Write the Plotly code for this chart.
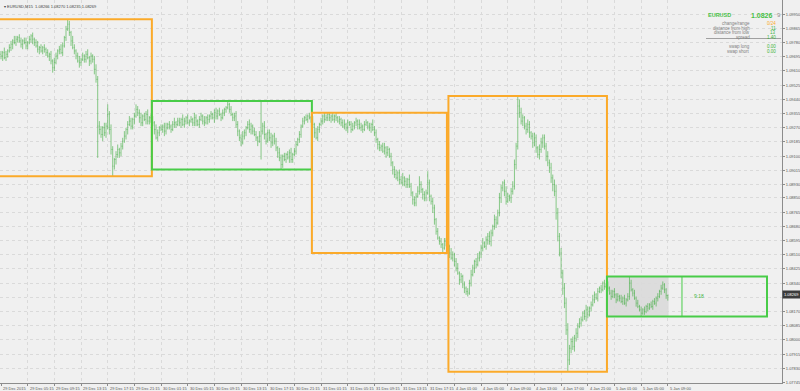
import plotly.graph_objects as go

# ---------------- data ----------------
symbol = "EURUSD"
timeframe = "M15"
base_price = 1.07
pip = 0.0001

first_open = 271
# closes in pips above base_price, one value per M15 bar
close_d1 = [270, 272, 269, 271, 273, 275, 277, 279, 278, 280, 281, 279, 277, 279, 278, 276, 278,
            280, 282, 280, 278, 276, 274, 275, 273, 275, 274, 272, 270, 271, 267, 263, 266,
            270, 273, 274, 272, 276, 281, 286, 289, 284, 279, 275, 273, 270, 267, 266, 268,
            270, 268, 271, 269, 267, 270, 268, 262, 256, 228, 226, 223, 227, 224, 228, 235,
            226, 214, 204, 208, 211, 214, 212, 216, 219, 222, 226, 229, 231, 228, 232, 234,
            238, 236, 233, 230, 234, 232, 235, 231, 233, 232]
close_d2 = [230, 226, 221, 224, 227, 226, 228, 225, 227, 229, 228, 226, 229, 230,
            229, 231, 230, 232, 229, 231, 233, 230, 231,
            232, 230, 233, 231, 229, 232, 234, 231, 230, 233, 232, 234,
            235, 233, 236, 234, 237, 235, 233, 236, 238, 239, 241, 238, 235, 233, 234,
            229, 225, 221, 218, 222, 224, 227, 229, 226, 228, 225, 223, 221, 219, 222, 225,
            228, 223, 219, 224, 221, 218, 222, 219, 215, 212, 209, 205, 210, 208,
            211, 209, 212, 208, 211, 213, 217, 220, 223, 228, 231, 233, 232, 234, 233, 232]
close_d3 = [229, 224, 221, 226, 229, 231, 234, 232, 233, 235, 233, 234, 232, 234, 233, 231, 232,
            230, 228, 229, 227, 230, 229, 226, 228, 230, 231, 229, 227, 228, 226, 229,
            230, 228, 227, 229, 226, 224, 220, 217, 215, 216, 213, 215, 212, 214, 210,
            206, 202, 199, 197, 200, 196, 194, 197, 195, 193, 196, 192, 188, 184, 182,
            186, 189, 193, 190, 187, 185, 188, 194, 186, 183, 179, 172, 165, 161, 159,
            157, 155, 159, 158]
close_d4 = [156, 152, 149, 151, 147, 143, 140, 136, 138, 133, 131, 129, 128, 134,
            139, 143, 147, 145, 149, 152, 155, 158, 156, 160, 162, 159,
            164, 168, 172, 170, 176, 185, 191, 194, 189, 183, 186, 185, 189, 192,
            205, 216, 240, 236, 231, 233, 228, 226, 229, 224, 222, 218, 221, 215, 211, 214,
            218, 221, 216, 210, 206, 203, 197, 193, 189, 176, 162, 152, 140, 131, 122,
            106, 88, 95, 99, 96, 101, 104, 108, 110, 112, 116, 114, 118, 115, 119,
            121, 124, 127, 125, 129, 131, 130, 134, 132, 133]
close_d5 = [131, 128, 126, 129, 127, 124, 126, 125, 123, 125, 122, 124, 126, 134, 130, 128,
            125, 122, 120, 118, 116, 118, 117, 120, 119, 121, 120, 123, 122, 125,
            126, 129, 131, 133, 130, 126.6, 126.9]

# upper / lower wick beyond the bar body, in pips
up_d1 = [2, 1, 3, 2, 1, 2, 2, 1, 3, 2, 1, 2, 2, 1, 2, 3, 1, 2, 1, 2, 1, 2, 3, 1, 2, 1, 2,
         1, 2, 1, 2, 1, 3, 2, 1, 2, 3, 2, 1, 2, 3, 2, 1, 3, 2, 1, 2, 3, 1, 2, 1, 2, 3, 1, 2, 1,
         2, 3, 2, 3, 2, 1, 3, 2, 6, 2, 3, 2, 1, 2, 3, 1, 2, 2, 3, 1, 2, 3, 2, 1, 2, 3, 2,
         2, 3, 1, 2, 2, 3, 1, 2]
dn_d1 = [2, 3, 1, 2, 2, 1, 2, 3, 1, 2, 2, 1, 2, 3, 1, 2, 2, 1, 2, 3, 2, 1, 2, 3, 1, 2, 2,
         2, 1, 3, 2, 3, 2, 1, 2, 2, 1, 2, 1, 2, 1, 2, 3, 1, 2, 2, 1, 3, 2, 1, 2, 2, 1, 3, 2, 2,
         3, 2, 19, 3, 2, 4, 2, 3, 2, 3, 3, 6, 2, 3, 2, 3, 2, 2, 1, 2, 3, 1, 2, 2, 3, 1, 2,
         3, 2, 2, 1, 3, 2, 2, 2]
up_d2 = [2, 1, 3, 2, 1, 2, 1, 2, 3, 1, 2, 1, 2, 3, 1, 2, 2, 1, 3, 2, 1, 2, 1,
         2, 1, 3, 2, 1, 2, 2, 1, 3, 1, 2, 1, 2, 1, 2, 3, 1, 2, 1, 2, 1, 1, 2, 1, 2, 1, 2,
         3, 2, 1, 2, 3, 2, 1, 2, 3, 2, 1, 2, 2, 1, 3, 18, 2, 3, 1, 2, 2, 3, 1, 2,
         2, 1, 3, 2, 1, 2, 1, 2, 2, 3, 1, 2, 2, 1, 2, 1, 2, 1, 2, 1, 2, 1]
dn_d2 = [2, 3, 1, 2, 2, 1, 2, 3, 2, 1, 2, 2, 1, 2, 2, 1, 2, 3, 1, 2, 2, 1, 2,
         1, 2, 2, 3, 1, 2, 1, 2, 2, 1, 3, 2, 2, 1, 3, 2, 2, 1, 2, 1, 2, 2, 1, 2, 1, 2, 2,
         2, 3, 2, 2, 1, 2, 2, 1, 2, 3, 2, 1, 2, 3, 1, 14, 2, 3, 2, 1, 2, 3, 2, 2,
         2, 3, 2, 3, 2, 1, 2, 1, 3, 2, 2, 1, 2, 1, 2, 2, 1, 2, 1, 2, 1, 2]
up_d3 = [2, 1, 3, 2, 1, 2, 1, 2, 2, 1, 1, 1, 2, 1, 2, 1, 2,
         1, 2, 3, 1, 2, 1, 2, 2, 1, 2, 1, 3, 2, 1, 2, 2, 1, 2, 1, 3, 2, 2, 1, 2,
         1, 2, 3, 1, 2, 1, 2, 1, 2, 3, 1, 2, 2, 3, 1, 2, 1, 3, 2, 1, 2,
         2, 3, 5, 2, 1, 2, 2, 7, 2, 1, 2, 2, 1, 2, 1, 2, 1, 2, 2]
dn_d3 = [2, 3, 1, 2, 2, 1, 2, 2, 1, 2, 2, 3, 1, 2, 2, 1, 2,
         2, 1, 2, 2, 3, 1, 2, 1, 2, 2, 3, 1, 2, 2, 1, 1, 2, 2, 3, 1, 2, 2, 3, 2,
         2, 1, 2, 3, 2, 1, 2, 3, 2, 1, 2, 3, 1, 2, 3, 2, 2, 1, 2, 3, 2,
         2, 1, 2, 2, 3, 2, 2, 1, 3, 2, 3, 3, 2, 1, 2, 2, 3, 1, 2]
up_d4 = [2, 1, 3, 2, 1, 2, 3, 1, 2, 1, 2, 1, 2, 2, 3, 2, 1, 2, 3, 1, 2, 3, 1, 2, 2, 3,
         2, 1, 3, 2, 2, 3, 2, 1, 2, 3, 2, 1, 2, 3, 3, 2, 6, 4,
         3, 2, 1, 2, 3, 2, 1, 2, 3, 2, 1, 3, 3, 2, 2, 2, 3, 2, 3, 2, 3, 4, 3, 2,
         3, 2, 3, 3, 4, 2, 2, 3, 2, 3, 2, 3, 2, 1, 2, 3, 2, 1, 2, 3, 2, 1, 2, 1, 2, 1, 2, 1]
dn_d4 = [2, 3, 1, 2, 3, 2, 1, 3, 2, 2, 3, 2, 2, 1, 2, 1, 3, 2, 1, 2, 3, 2, 1, 2, 3, 2,
         3, 2, 2, 3, 1, 2, 3, 2, 3, 2, 1, 2, 3, 2, 2, 3, 2, 3,
         2, 3, 2, 3, 2, 3, 2, 3, 2, 3, 2, 3, 2, 3, 2, 3, 2, 3, 3, 4, 3, 4, 3, 2,
         3, 4, 3, 3, 7, 3, 3, 2, 3, 2, 3, 1, 2, 1, 2, 3, 2, 1, 2, 1, 2, 1, 2, 1, 2, 1, 2, 1]
up_d5 = [2, 1, 2, 1, 2, 1, 2, 1, 2, 1, 2, 1, 2, 4, 2, 1, 2, 1, 2, 1, 2, 1,
         2, 1, 2, 1, 2, 1, 2, 1, 2, 1, 2, 2, 1, 1, 0.1]
dn_d5 = [2, 1, 2, 1, 2, 2, 1, 2, 1, 2, 1, 2, 1, 2, 1, 2, 1, 2.1, 1, 1, 2, 1,
         2, 1, 2, 1, 1, 2, 1, 2, 2, 1, 2, 1, 2, 2, 3.1]

# trading days (bar index of first and last M15 bar of each day)
day_first_bar = [-5, 91, 187, 268, 364]
day_last_bar = [90, 186, 267, 363, 459]

tick_bars = list(range(0, 401, 16))
tick_labels = ["29 Dec 2015", "29 Dec 05:15", "29 Dec 09:15", "29 Dec 13:15", "29 Dec 17:15",
               "29 Dec 21:15", "30 Dec 01:15", "30 Dec 05:15", "30 Dec 09:15", "30 Dec 13:15",
               "30 Dec 17:15", "30 Dec 21:15", "31 Dec 01:15", "31 Dec 05:15", "31 Dec 09:15",
               "31 Dec 13:15", "31 Dec 17:15", "4 Jan 01:00", "4 Jan 05:00", "4 Jan 09:00",
               "4 Jan 13:00", "4 Jan 17:00", "4 Jan 21:00", "5 Jan 01:00", "5 Jan 05:00",
               "5 Jan 09:00"]
price_labels = ["1.09950", "1.09865", "1.09780", "1.09695", "1.09610", "1.09525", "1.09440",
                "1.09355", "1.09270", "1.09185", "1.09100", "1.09015", "1.08930", "1.08850",
                "1.08765", "1.08680", "1.08595", "1.08510", "1.08425", "1.08340", "1.08255",
                "1.08170", "1.08085", "1.08000", "1.07915", "1.07830", "1.07745"]

panel_change = 0
panel_spread = "1.40"
panel_swap_long = "0.00"
panel_swap_short = "0.00"
timer_bar = 408.5
timer_text = "9:18"
range_limit_pips = 60

# ---------------- build ----------------
close = close_d1 + close_d2 + close_d3 + close_d4 + close_d5
up = up_d1 + up_d2 + up_d3 + up_d4 + up_d5
dn = dn_d1 + dn_d2 + dn_d3 + dn_d4 + dn_d5
n = len(close)
opn = [first_open] + close[:-1]
high = [max(o, c) + u for o, c, u in zip(opn, close, up)]
low = [min(o, c) - d for o, c, d in zip(opn, close, dn)]


def to_price(v):
    return base_price + v * pip


ORANGE = "#fbaa2a"
GREEN = "#48cc48"
BAR = "rgba(70,175,70,0.62)"
TXT = "#555555"
FONT = "Liberation Sans"
W_PLOT, H_PLOT = 782.0, 383.0


def pxx(x):
    return x / W_PLOT


def pxy(y):
    return 1 - y / H_PLOT


fig = go.Figure()
fig.add_trace(go.Ohlc(
    x=list(range(n)),
    open=[to_price(v) for v in opn],
    high=[to_price(v) for v in high],
    low=[to_price(v) for v in low],
    close=[to_price(v) for v in close],
    increasing=dict(line=dict(color=BAR, width=1)),
    decreasing=dict(line=dict(color=BAR, width=1)),
    tickwidth=0.3,
    hoverinfo="skip",
    showlegend=False,
))

shapes = []
annotations = []
cur_hi = cur_lo = None
prev_end = None
for d in range(len(day_first_bar)):
    i0 = max(day_first_bar[d], 0)
    i1 = min(day_last_bar[d], n - 1)
    hi = max(high[i0:i1 + 1])
    lo = min(low[i0:i1 + 1])
    col = ORANGE if hi - lo > range_limit_pips else GREEN
    x0 = day_first_bar[d] - 0.5
    if prev_end is not None and abs(x0 - prev_end) < 0.01 and d == 3:
        x0 += 0.9  # weekend gap: MT4 leaves a small gap between the boxes
    x1 = day_last_bar[d] + 0.5
    prev_end = x1
    if day_last_bar[d] > n - 1:
        cur_hi, cur_lo = hi, lo
        shapes.append(dict(type="rect", xref="x", yref="y", x0=x0, x1=n - 0.5,
                           y0=to_price(lo), y1=to_price(hi), fillcolor="#dcdcdc",
                           line=dict(width=0), layer="below"))
        shapes.append(dict(type="line", xref="x", yref="y", x0=timer_bar, x1=timer_bar,
                           y0=to_price(lo), y1=to_price(hi), line=dict(color=GREEN, width=1)))
        annotations.append(dict(x=timer_bar + 6, y=to_price((lo + hi) / 2), xref="x", yref="y",
                                text=timer_text, showarrow=False, xanchor="left",
                                font=dict(size=5, color="#3cb43c", family=FONT)))
    shapes.append(dict(type="rect", xref="x", yref="y", x0=x0, x1=x1,
                       y0=to_price(lo), y1=to_price(hi),
                       line=dict(color=col, width=2), layer="above"))

# x labels (left aligned after tick, MT4 style)
for b, t in zip(tick_bars, tick_labels):
    annotations.append(dict(x=b, y=0, xref="x", yref="paper", text=t, showarrow=False,
                            xanchor="left", yanchor="top", xshift=0, yshift=-1,
                            font=dict(size=4, color=TXT, family=FONT)))

# header
fmt = lambda v: f"{to_price(v):.5f}"
annotations.append(dict(x=0, y=1, xref="paper", yref="paper", xanchor="left", yanchor="top",
                        xshift=2, yshift=-2, showarrow=False,
                        text=f"▾ {symbol},{timeframe}  {fmt(opn[-1])} {fmt(high[-1])} {fmt(low[-1])} {fmt(close[-1])}",
                        font=dict(size=4, color="#404040", family=FONT)))

# current price tag on price scale (covers the scale label underneath, as in MT4)
tag_label = fmt(close[-1])
annotations.append(dict(x=1, y=to_price(close[-1]), xref="paper", yref="y", xanchor="left",
                        showarrow=False, text=tag_label, bgcolor="#3c3c3c",
                        font=dict(size=4, color="#ffffff", family=FONT), borderpad=1))
shown_price_text = ["" if abs(float(s) - to_price(close[-1])) < 0.00018 else s
                    for s in price_labels]

# info panel
last_txt = fmt(close[-1])
rng = round(cur_hi - cur_lo)
d_high = round(cur_hi - close[-1])
d_low = round(close[-1] - cur_lo)
PG = "#3cb43c"
annotations.append(dict(x=pxx(706), y=pxy(10), xref="paper", yref="paper", xanchor="left",
                        showarrow=False, text=f"<b>{symbol}</b>",
                        font=dict(size=5.5, color="#46c046", family=FONT)))
annotations.append(dict(x=pxx(775), y=pxy(10), xref="paper", yref="paper", xanchor="right",
                        showarrow=False, text=f"<b>{last_txt[:-1]}</b>",
                        font=dict(size=7, color="#46c046", family=FONT)))
annotations.append(dict(x=pxx(775), y=pxy(10.5), xref="paper", yref="paper", xanchor="left",
                        showarrow=False, text=last_txt[-1],
                        font=dict(size=6, color="#8a8a8a", family=FONT)))
rows = [("change/range", f"{panel_change}/{rng}", ORANGE, 19.5),
        ("distance from high", f"{d_high}", PG, 24),
        ("distance from low", f"{d_low}", PG, 28.3),
        ("spread", panel_spread, PG, 32.7),
        ("swap long", panel_swap_long, PG, 42.5),
        ("swap short", panel_swap_short, PG, 47)]
for lab, val, vc, yy in rows:
    annotations.append(dict(x=pxx(752), y=pxy(yy), xref="paper", yref="paper", xanchor="right",
                            showarrow=False, text=lab,
                            font=dict(size=4.5, color="#808080", family=FONT)))
    annotations.append(dict(x=pxx(778), y=pxy(yy), xref="paper", yref="paper", xanchor="right",
                            showarrow=False, text=val,
                            font=dict(size=4.5, color=vc, family=FONT)))
for yy in (38.5,):
    shapes.append(dict(type="line", xref="paper", yref="paper", x0=pxx(706), x1=pxx(781),
                       y0=pxy(yy), y1=pxy(yy), line=dict(color="#a0a0a0", width=1)))

fig.update_layout(
    width=800, height=391,
    margin=dict(l=0, r=18, t=0, b=8, pad=0),
    paper_bgcolor="#f0f0f0",
    plot_bgcolor="#f0f0f0",
    shapes=shapes,
    annotations=annotations,
    showlegend=False,
    xaxis=dict(range=[-0.6, 468.5], rangeslider=dict(visible=False), tickmode="array",
               tickvals=tick_bars, showticklabels=False, showgrid=True, gridcolor="#dadada",
               griddash="dot", gridwidth=1, zeroline=False, showline=True, linecolor="#8c8c8c",
               linewidth=1, ticks="outside", ticklen=2, tickcolor="#8c8c8c", automargin=False),
    yaxis=dict(range=[1.07742, 1.10035], side="right", tickmode="array",
               tickvals=[float(s) for s in price_labels], ticktext=shown_price_text,
               tickfont=dict(size=4, color=TXT, family=FONT), showgrid=True,
               gridcolor="#dadada", griddash="dot", gridwidth=1, zeroline=False,
               showline=True, linecolor="#8c8c8c", linewidth=1, ticks="outside", ticklen=2,
               tickcolor="#8c8c8c", automargin=False),
)

fig.write_html("out.html", config={"displayModeBar": False})
